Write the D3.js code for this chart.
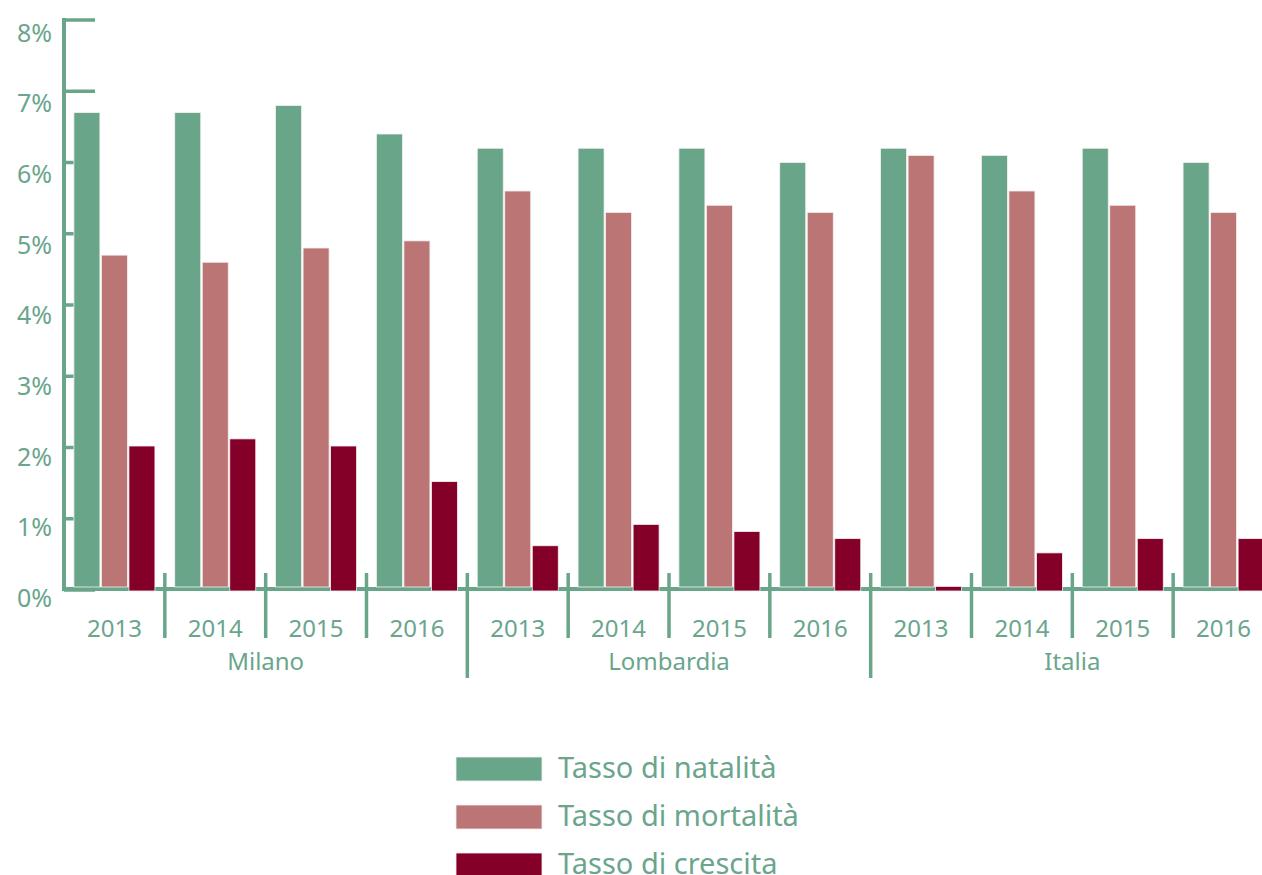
<!DOCTYPE html>
<html><head><meta charset="utf-8">
<script src="https://cdn.jsdelivr.net/npm/d3@7"></script>
<style>body{margin:0;background:#fff;} svg{display:block;}</style>
</head><body>
<script>
const groups = ["Milano","Lombardia","Italia"];
const years = ["2013","2014","2015","2016"];
const seriesNames = ["Tasso di natalità","Tasso di mortalità","Tasso di crescita"];
const natalita = [6.7,6.7,6.8,6.4, 6.2,6.2,6.2,6.0, 6.2,6.1,6.2,6.0];
const mortalita = [4.7,4.6,4.8,4.9, 5.6,5.3,5.4,5.3, 6.1,5.6,5.4,5.3];
const crescita = [2.0,2.1,2.0,1.5, 0.6,0.9,0.8,0.7, 0.03,0.5,0.7,0.7];
const yTicks = [0,1,2,3,4,5,6,7,8];
const colors = ["#69a589","#bb7574","#840029"];
const textColor = "#6aa58c";

const W = 1262, H = 875;
const svg = d3.select("body").append("svg").attr("width",W).attr("height",H);
const font = "'Noto Sans', sans-serif";

const slots = [];
groups.forEach(g => years.forEach(y => slots.push(g + "|" + y)));
const x = d3.scaleBand().domain(slots).range([64, 1274]).paddingInner(0).paddingOuter(0);
const xs = d3.scaleBand().domain(d3.range(3)).range([0, x.bandwidth()]).paddingInner(0.055).paddingOuter(0.36);
const y = d3.scaleLinear().domain([0,8]).range([590,20]);
const yLab = d3.scaleLinear().domain([0,8]).range([598,32.5]);
const series = [natalita, mortalita, crescita];

// y ticks (inward)
svg.append("g").selectAll("line").data(yTicks).join("line")
  .attr("x1",64).attr("x2",95).attr("y1",d=>y(d)).attr("y2",d=>y(d))
  .attr("stroke",colors[0]).attr("stroke-width",3.5);

// axes lines
svg.append("line").attr("x1",64).attr("x2",64).attr("y1",18).attr("y2",590)
  .attr("stroke",colors[0]).attr("stroke-width",4);
svg.append("line").attr("x1",62).attr("x2",1262).attr("y1",y(0)-1).attr("y2",y(0)-1)
  .attr("stroke",colors[0]).attr("stroke-width",4);

// bars
const bars = svg.append("g");
series.forEach((vals, si) => {
  bars.selectAll(null).data(vals).join("rect")
    .attr("x",(d,i)=>x(slots[i]) + xs(si))
    .attr("width",xs.bandwidth())
    .attr("y",d=>y(d) - (si===2 ? 1.5 : 0))
    .attr("height",d=>y(0) - y(d) + (si===2 ? 2.5 : -3))
    .attr("fill",colors[si]).attr("stroke","#f3f0f0").attr("stroke-width",0.8);
});

// y labels
svg.append("g").selectAll("text").data(yTicks).join("text")
  .attr("x",52).attr("y",d=>yLab(d)+9)
  .attr("text-anchor","end").attr("fill",textColor)
  .attr("font-family",font).attr("font-size",25)
  .text(d=>d+"%");

// separators
const seps = slots.slice(1).map((s,i)=>({x:x(s), major:(i+1)%4===0}));
svg.append("g").selectAll("line").data(seps).join("line")
  .attr("x1",d=>d.x).attr("x2",d=>d.x)
  .attr("y1",573).attr("y2",d=>d.major?678:638)
  .attr("stroke",colors[0]).attr("stroke-width",3.5);

// year labels
svg.append("g").selectAll("text").data(slots).join("text")
  .attr("x",d=>x(d)+x.bandwidth()/2).attr("y",637)
  .attr("text-anchor","middle").attr("fill",textColor)
  .attr("font-family",font).attr("font-size",24)
  .text(d=>d.split("|")[1]);

// group labels
svg.append("g").selectAll("text").data(groups).join("text")
  .attr("x",g=>(x(g+"|2013") + x(g+"|2016") + x.bandwidth())/2).attr("y",670)
  .attr("text-anchor","middle").attr("fill",textColor)
  .attr("font-family",font).attr("font-size",24)
  .text(d=>d);

// legend
const lg = svg.append("g").attr("transform","translate(456,757)");
seriesNames.forEach((n,i)=>{
  lg.append("rect").attr("x",0).attr("y",i*48).attr("width",86).attr("height",24)
    .attr("fill",colors[i]).attr("stroke","#f3f0f0").attr("stroke-width",0.8);
  lg.append("text").attr("x",102).attr("y",i*48+21)
    .attr("fill",textColor).attr("font-family",font).attr("font-size",29)
    .text(n);
});
</script>
</body></html>
